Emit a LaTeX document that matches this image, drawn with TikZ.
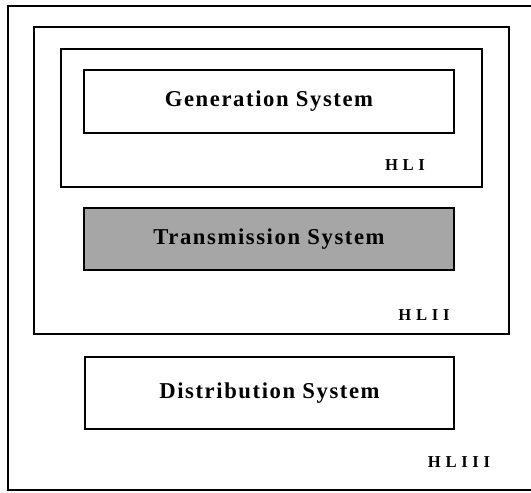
\documentclass[tikz,border=0pt]{standalone}
\usepackage{fontspec}
\setmainfont{Liberation Serif}
\newfontfamily\lvlfont[LetterSpace=28]{Liberation Serif}
\newfontfamily\sysfont[LetterSpace=7]{Liberation Serif}
\usepackage{tikz}
\usetikzlibrary{positioning}
\definecolor{shade}{HTML}{A6A6A6}
\tikzset{
  frame/.style={draw, line width=1.5pt, rectangle, inner sep=0pt},
  sys/.style={frame, minimum width=277.5pt, font=\sysfont\fontsize{17}{19}\selectfont\bfseries},
  lvl/.style={font=\lvlfont\fontsize{12.5}{14}\selectfont\bfseries, inner sep=0pt}
}

\begin{document}
\begin{tikzpicture}[x=0.75pt, y=-0.75pt]
\useasboundingbox (0,0) rectangle (531,492);
% outer level, open on the right
\coordinate (otr) at (531,6);
\coordinate (obr) at (531,490);
\draw[line width=1.5pt] (otr) -| (8,490) -- (obr);
% hierarchical levels
\node[frame, minimum width=356.25pt, minimum height=230.25pt] (hl2) at (271.5,180.5) {};
\node[frame, minimum width=315.75pt, minimum height=103.5pt] (hl1) at (271.5,118) {};
% subsystems
\node[sys, minimum height=47.25pt] (gen) at (269,101.5) {Generation System};
\node[sys, minimum height=46.5pt, fill=shade] (trans) at (269,239) {Transmission System};
\node[sys, minimum width=276.75pt, minimum height=54pt] (dist) at (269.5,393) {Distribution System};
% level labels
\node[lvl] (l1) at (405,165) {HLI};
\node[lvl] (l2) at (424,315) {HLII};
\node[lvl] (l3) at (459,462) {HLIII};
\end{tikzpicture}
\end{document}
